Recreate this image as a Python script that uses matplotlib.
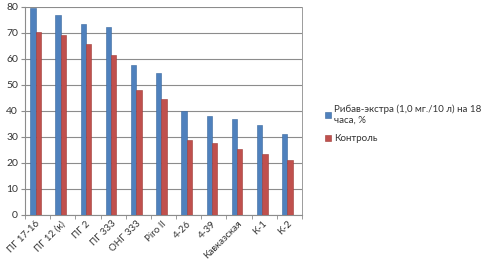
import matplotlib
matplotlib.use("Agg")
import matplotlib.pyplot as plt
import numpy as np

categories = ["ПГ 17-16", "ПГ 12 (к)", "ПГ 2", "ПГ 333", "ОНГ 333", "Piro II",
              "4-26", "4-39", "Кавказская", "К-1", "К-2"]
ribav = [79.5, 77, 73.5, 72.2, 57.8, 54.5, 40, 38, 37, 34.5, 31.3]
control = [70.3, 69.2, 65.6, 61.4, 48, 44.5, 28.8, 27.8, 25.5, 23.3, 21.3]
series_names = ["Рибав-экстра (1,0 мг./10 л) на 18\nчаса, %", "Контроль"]

plt.rcParams['font.family'] = ['Lato', 'DejaVu Sans']
fig = plt.figure(figsize=(4.9, 2.72), dpi=100)
ax = fig.add_axes([25/490, 1-215/272, (302-25)/490, (215-7)/272])

x = np.arange(len(categories))
w = 0.21
ax.bar(x - 0.08 - w/2, ribav, width=w, color="#4F81BD", edgecolor="#3A679E", linewidth=0.4, zorder=3, label=series_names[0])
ax.bar(x - 0.08 + w/2, control, width=w, color="#C0504D", edgecolor="#9E3A37", linewidth=0.4, zorder=3, label=series_names[1])

ax.set_xlim(-0.5, len(categories) - 0.5)
ax.set_ylim(0, 80)
ax.set_yticks(range(0, 81, 10))
ax.yaxis.grid(True, color="#8C8C8C", linewidth=0.8, zorder=0)
ax.set_axisbelow(True)
ax.spines["top"].set_visible(False)
for s in ["left", "bottom", "right"]:
    ax.spines[s].set_color("#8C8C8C")
ax.spines["right"].set_linewidth(0.6)
ax.tick_params(axis="y", labelsize=7.5, colors="#8C8C8C", labelcolor="#333333", length=3, pad=2)
ax.set_xticks(x - 0.08)
ax.set_xticklabels(categories, rotation=45, ha="right", rotation_mode="anchor", fontsize=7, color="#333333")
ax.set_xticks(np.arange(-0.5, len(categories), 1), minor=True)
ax.tick_params(axis="x", which="major", length=0, pad=3)
ax.tick_params(axis="x", which="minor", length=3, colors="#8C8C8C")

leg = fig.legend(loc="upper left", bbox_to_anchor=(316/490, 1-96/272), frameon=False,
                 fontsize=7, handlelength=0.6, handleheight=0.6, handletextpad=0.4,
                 labelspacing=1.0, labelcolor="#333333")

fig.savefig("out.png", dpi=100)
